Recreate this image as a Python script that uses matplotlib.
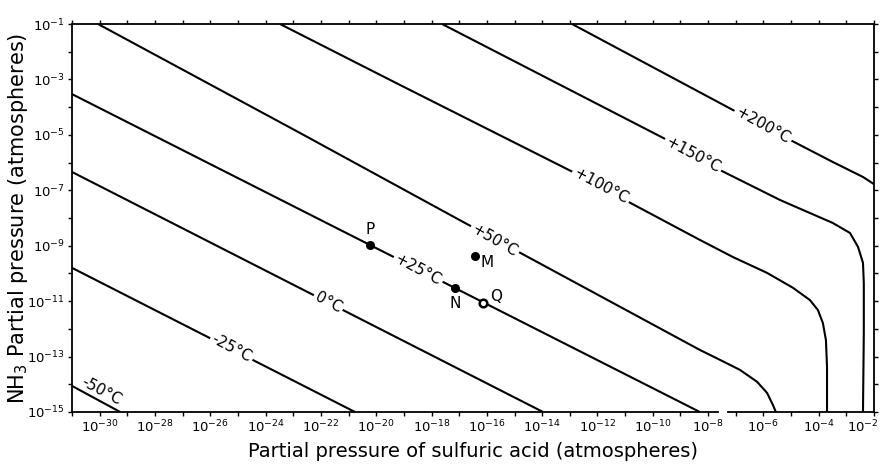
import matplotlib
matplotlib.use("Agg")
import matplotlib.pyplot as plt
import matplotlib.transforms as mtransforms
import numpy as np

# log10 of partial pressures
# straight isotherms (x = H2SO4, y = NH3)
m50_x = [-31.0, -29.26]
m50_y = [-14.06, -15.0]
m25_x = [-31.0, -20.77]
m25_y = [-9.80, -15.0]
t0_x = [-31.0, -13.97]
t0_y = [-6.34, -15.0]
p25_x = [-31.0, -8.30]
p25_y = [-3.53, -15.0]

# isotherms that bend over near the acid's own vapour pressure
p50_x = [-30.06, -22.76, -16.79, -8.30, -7.57, -6.85, -6.23, -5.87, -5.66, -5.55]
p50_y = [-1.0, -4.93, -8.18, -12.76, -13.12, -13.48, -13.91, -14.31, -14.74, -15.0]
p100_x = [-23.48, -19.14, -12.81, -11.01, -8.30, -7.10, -5.87, -4.93, -4.32, -4.03, -3.85, -3.74, -3.70, -3.70]
p100_y = [-1.0, -3.20, -6.38, -7.35, -8.79, -9.41, -9.98, -10.52, -10.96, -11.32, -11.79, -12.40, -13.37, -15.0]
p150_x = [-17.62, -9.49, -7.57, -5.40, -4.32, -3.49, -2.87, -2.58, -2.40, -2.37, -2.37, -2.40]
p150_y = [-1.0, -5.18, -6.27, -7.35, -7.82, -8.18, -8.54, -9.04, -9.62, -10.34, -12.15, -15.0]
p200_x = [-12.92, -6.02, -5.04, -3.49, -2.40, -2.0]
p200_y = [-1.0, -4.68, -5.18, -5.98, -6.52, -6.78]

curves = [(m50_x, m50_y), (m25_x, m25_y), (t0_x, t0_y), (p25_x, p25_y),
          (p50_x, p50_y), (p100_x, p100_y), (p150_x, p150_y), (p200_x, p200_y)]

# isotherm labels: text, log x, log y, angle
iso_labels = ["-50°C", "-25°C", "0°C", "+25°C", "+50°C", "+100°C", "+150°C", "+200°C"]
iso_lx = [-29.92, -25.22, -21.74, -18.49, -15.74, -11.87, -8.55, -6.02]
iso_ly = [-14.24, -12.69, -11.06, -9.87, -8.83, -6.84, -5.73, -4.68]
iso_rot = [-28, -28, -28, -28, -30, -28, -28, -29]

# marked states
pt_names = ["P", "M", "N", "Q"]
pt_x = [-20.23, -16.43, -17.15, -16.14]
pt_y = [-8.97, -9.37, -10.52, -11.06]
pt_lx = [-20.23, -15.98, -17.15, -15.68]
pt_ly = [-8.43, -9.62, -11.08, -10.84]

xlabels_exp = list(range(-30, -1, 2))
ylabels_exp = list(range(-15, 0, 2))

fig = plt.figure(figsize=(8.86, 4.68), dpi=100)
ax = fig.add_axes([0.0813, 0.1197, 0.9052, 0.829])
ax.set_xscale("log")
ax.set_yscale("log")
ax.set_xlim(1e-31, 1e-2)
ax.set_ylim(1e-15, 1e-1)

for cx, cy in curves:
    ax.plot(10.0 ** np.array(cx), 10.0 ** np.array(cy), color="black", lw=1.5,
            solid_capstyle="butt", zorder=2)

for i, lab in enumerate(iso_labels):
    kw = {}
    if i > 0:
        kw["bbox"] = dict(facecolor="white", edgecolor="none", pad=1.5)
    ax.text(10.0 ** iso_lx[i], 10.0 ** iso_ly[i], lab, rotation=iso_rot[i],
            ha="center", va="center", fontsize=11, zorder=3,
            rotation_mode="anchor", **kw)

for i, nm in enumerate(pt_names):
    if nm == "Q":
        ax.plot(10.0 ** pt_x[i], 10.0 ** pt_y[i], "o", ms=5.5, mfc="white",
                mec="black", mew=1.8, zorder=4)
    else:
        ax.plot(10.0 ** pt_x[i], 10.0 ** pt_y[i], "o", ms=5.5, color="black", zorder=4)
    ax.text(10.0 ** pt_lx[i], 10.0 ** pt_ly[i], nm, ha="center", va="center",
            fontsize=11, zorder=4)

# ticks every decade, labels on every other one
ax.set_xticks([10.0 ** e for e in range(-31, -1)])
ax.set_xticklabels(["$10^{%d}$" % e if e in xlabels_exp else "" for e in range(-31, -1)])
ax.set_yticks([10.0 ** e for e in range(-15, 0)])
ax.set_yticklabels(["$10^{%d}$" % e if e in ylabels_exp else "" for e in range(-15, 0)])
ax.minorticks_off()
ax.tick_params(which="both", direction="out", length=3, width=1.0,
               top=True, right=True, labelsize=9.5, pad=2)

# last x label sits a little left of its tick, as in the original
last = ax.get_xticklabels()[-1]
last.set_transform(last.get_transform() +
                   mtransforms.ScaledTranslation(-8 / 72, 0, fig.dpi_scale_trans))

for s in ax.spines.values():
    s.set_linewidth(1.3)
# the bottom axis line in the original has a short break near 1e-7
ax.spines["bottom"].set_visible(False)
ax.axhline(1e-15, xmin=0, xmax=0.8055, color="black", lw=1.3, clip_on=False)
ax.axhline(1e-15, xmin=0.818, xmax=1, color="black", lw=1.3, clip_on=False)

ax.set_xlabel("Partial pressure of sulfuric acid (atmospheres)", fontsize=14, labelpad=5)
ax.set_ylabel("NH$_3$ Partial pressure (atmospheres)", fontsize=15)
ax.yaxis.set_label_coords(-0.052, 0.5)

fig.savefig("out.png", dpi=100)
